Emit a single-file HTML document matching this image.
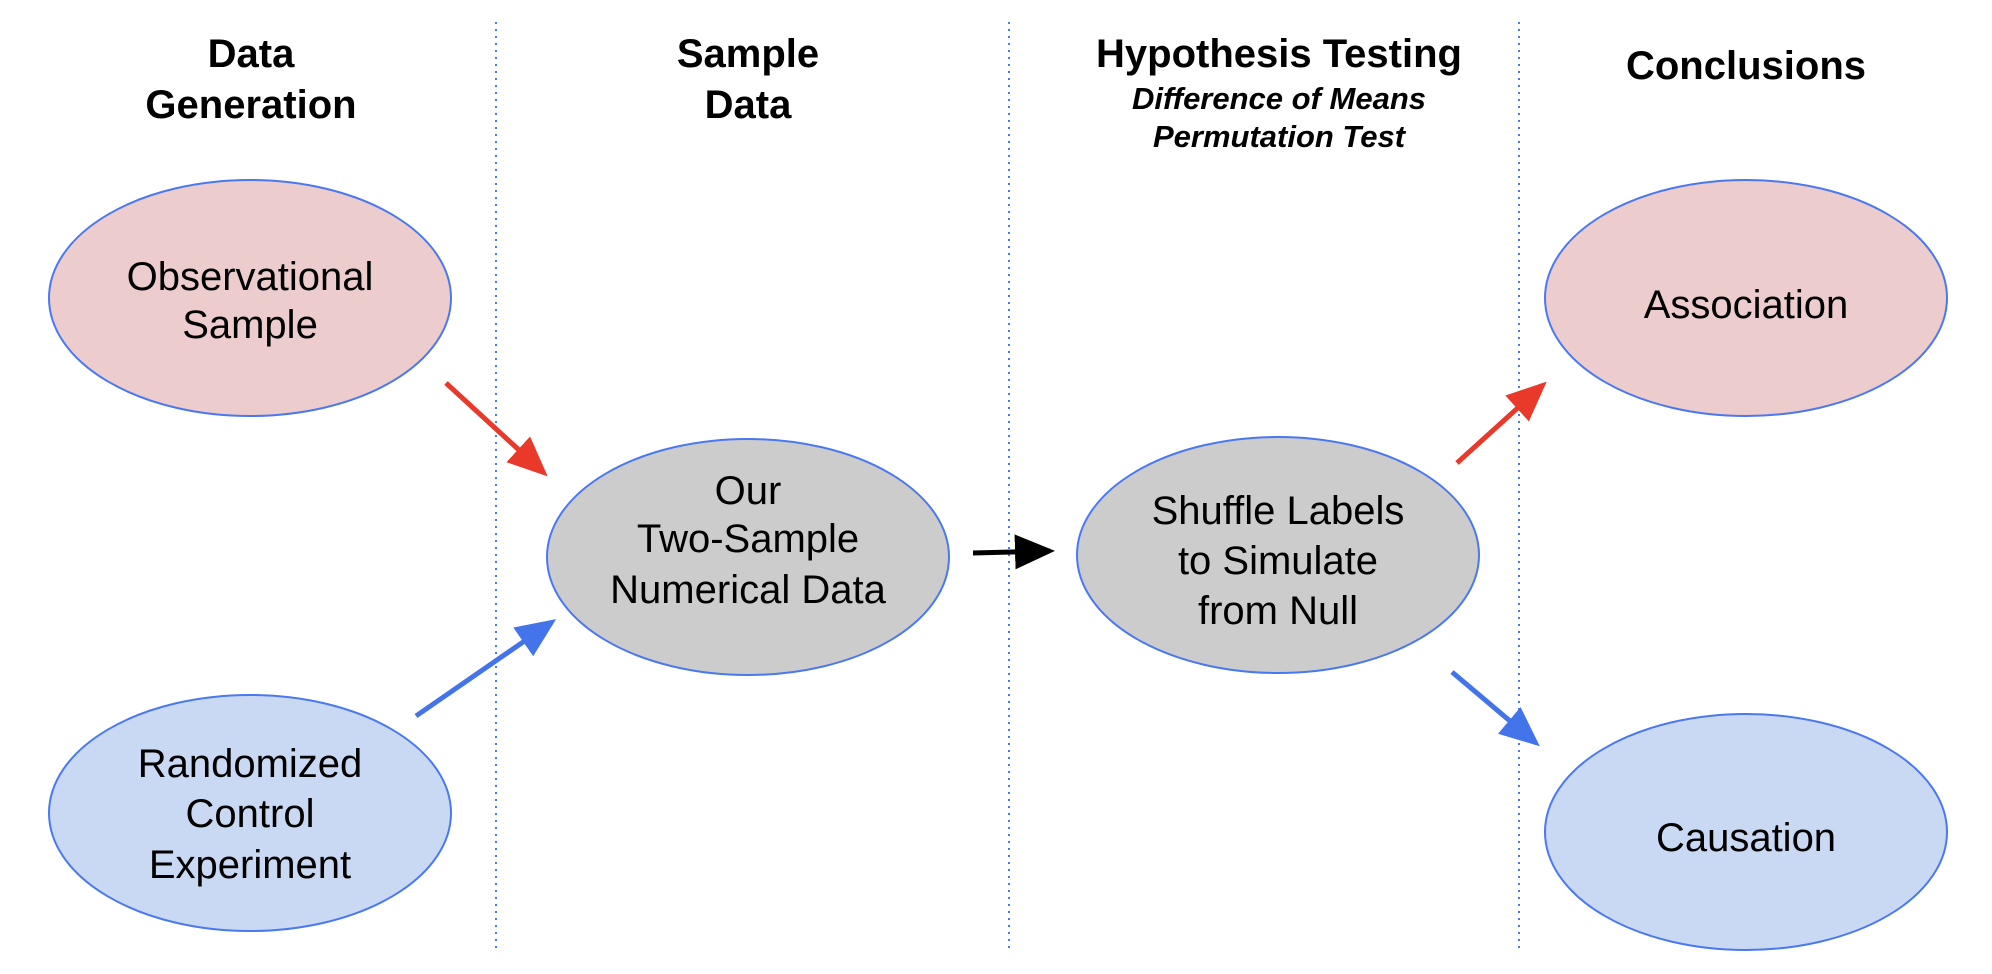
<!DOCTYPE html>
<html><head><meta charset="utf-8"><style>
html,body{margin:0;padding:0;background:#fff}
svg{display:block}
text{font-family:"Liberation Sans",Arial,sans-serif;fill:#000}
.h{font-weight:bold;font-size:40px}
.s{font-weight:bold;font-style:italic;font-size:31px}
.n{font-size:40px}
</style></head><body>
<svg width="1992" height="974" viewBox="0 0 1992 974" xmlns="http://www.w3.org/2000/svg">
<defs>
<marker id="ar" markerWidth="8" markerHeight="7" refX="7" refY="3.5" orient="auto" markerUnits="strokeWidth"><path d="M0,0 L8,3.5 L0,7 z" fill="#e8392b"/></marker>
<marker id="ab" markerWidth="8" markerHeight="7" refX="7" refY="3.5" orient="auto" markerUnits="strokeWidth"><path d="M0,0 L8,3.5 L0,7 z" fill="#4374ea"/></marker>
<marker id="ak" markerWidth="8" markerHeight="7" refX="7" refY="3.5" orient="auto" markerUnits="strokeWidth"><path d="M0,0 L8,3.5 L0,7 z" fill="#000"/></marker>
</defs>
<g stroke="#4a78f0" stroke-width="2" stroke-dasharray="2,5">
<line x1="496" y1="22" x2="496" y2="953"/>
<line x1="1009" y1="22" x2="1009" y2="953"/>
<line x1="1519" y1="22" x2="1519" y2="953"/>
</g>
<g text-anchor="middle">
<text class="h" x="251" y="67">Data</text>
<text class="h" x="251" y="118">Generation</text>
<text class="h" x="748" y="67">Sample</text>
<text class="h" x="748" y="118">Data</text>
<text class="h" x="1279" y="67">Hypothesis Testing</text>
<text class="s" x="1279" y="109">Difference of Means</text>
<text class="s" x="1279" y="147">Permutation Test</text>
<text class="h" x="1746" y="79">Conclusions</text>
</g>
<g stroke="#4a78f0" stroke-width="2">
<ellipse cx="250" cy="298" rx="201" ry="118" fill="#eccccc"/>
<ellipse cx="250" cy="813" rx="201" ry="118" fill="#c9d9f3"/>
<ellipse cx="748" cy="557" rx="201" ry="118" fill="#cccccc"/>
<ellipse cx="1278" cy="555" rx="201" ry="118" fill="#cccccc"/>
<ellipse cx="1746" cy="298" rx="201" ry="118" fill="#eccccc"/>
<ellipse cx="1746" cy="832" rx="201" ry="118" fill="#c9d9f3"/>
</g>
<g text-anchor="middle" class="n">
<text class="n" x="250" y="290">Observational</text>
<text class="n" x="250" y="338">Sample</text>
<text class="n" x="250" y="777">Randomized</text>
<text class="n" x="250" y="827">Control</text>
<text class="n" x="250" y="878">Experiment</text>
<text class="n" x="748" y="504">Our</text>
<text class="n" x="748" y="552">Two-Sample</text>
<text class="n" x="748" y="603">Numerical Data</text>
<text class="n" x="1278" y="524">Shuffle Labels</text>
<text class="n" x="1278" y="574">to Simulate</text>
<text class="n" x="1278" y="624">from Null</text>
<text class="n" x="1746" y="318">Association</text>
<text class="n" x="1746" y="851">Causation</text>
</g>
<g stroke-width="5" fill="none">
<line x1="446" y1="383" x2="544" y2="473" stroke="#e8392b" marker-end="url(#ar)"/>
<line x1="416" y1="716" x2="552" y2="622" stroke="#4374ea" marker-end="url(#ab)"/>
<line x1="973" y1="553" x2="1050" y2="551" stroke="#000" marker-end="url(#ak)"/>
<line x1="1457" y1="463" x2="1543" y2="385" stroke="#e8392b" marker-end="url(#ar)"/>
<line x1="1452" y1="672" x2="1536" y2="743" stroke="#4374ea" marker-end="url(#ab)"/>
</g>
</svg>
</body></html>
